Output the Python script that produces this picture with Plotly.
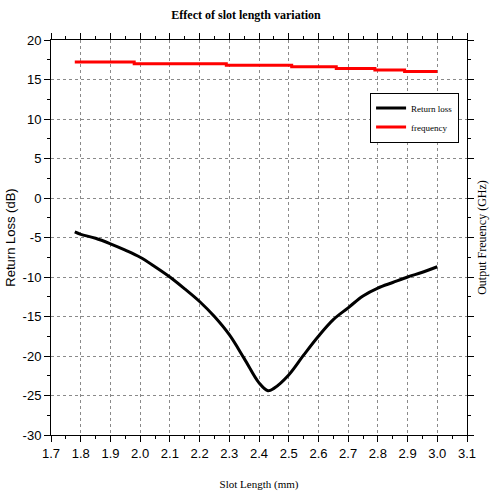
import plotly.graph_objects as go

# Return loss data
slot_len = [1.78, 1.80, 1.85, 1.90, 1.95, 2.00, 2.05, 2.10, 2.15, 2.20, 2.25, 2.30,
            2.35, 2.40, 2.43, 2.45, 2.50, 2.55, 2.60, 2.65, 2.70, 2.75, 2.80,
            2.85, 2.90, 2.95, 3.00]
return_loss = [-4.3, -4.6, -5.1, -5.8, -6.6, -7.5, -8.7, -10.0, -11.5, -13.1, -15.0, -17.3,
               -20.3, -23.4, -24.4, -24.1, -22.4, -19.9, -17.5, -15.4, -13.9, -12.4, -11.4,
               -10.7, -10.0, -9.4, -8.7]

# Output frequency (step-wise)
freq_len = [1.78, 1.98, 2.29, 2.51, 2.66, 2.79, 2.89, 3.00]
frequency = [17.2, 17.0, 16.8, 16.6, 16.4, 16.2, 16.0, 16.0]

x_ticks = [1.7, 1.8, 1.9, 2.0, 2.1, 2.2, 2.3, 2.4, 2.5, 2.6, 2.7, 2.8, 2.9, 3.0, 3.1]
y_ticks = [-30, -25, -20, -15, -10, -5, 0, 5, 10, 15, 20]

SANS = "Liberation Sans, Arial, sans-serif"
SERIF = "Liberation Serif, Times New Roman, serif"

fig = go.Figure()
fig.add_trace(go.Scatter(x=slot_len, y=return_loss, mode="lines", name="Return loss",
                         line=dict(color="black", width=3, shape="spline")))
fig.add_trace(go.Scatter(x=freq_len, y=frequency, mode="lines", name="frequency",
                         line=dict(color="#ff0000", width=3, shape="hv"), yaxis="y2"))

axis_common = dict(showline=True, linecolor="black", linewidth=1,
                   ticks="outside", ticklen=6, tickcolor="black", tickwidth=1,
                   tickfont=dict(family=SANS, size=13, color="black"),
                   zeroline=False, automargin=False)

fig.update_layout(
    width=492, height=495,
    margin=dict(l=51, r=25, t=40, b=60),
    paper_bgcolor="white", plot_bgcolor="white",
    title=dict(text="<b>Effect of slot length variation</b>", x=0.5, xanchor="center",
               y=1 - 15 / 495, yanchor="middle",
               font=dict(family=SERIF, size=12, color="black")),
    xaxis=dict(range=[1.7, 3.1], tickvals=x_ticks, ticktext=[f"{v:.1f}" for v in x_ticks],
               showgrid=True, gridcolor="#8a8a8a", griddash="dot", gridwidth=1,
               mirror="ticks",
               minor=dict(dtick=0.05, tick0=1.7, ticks="outside", ticklen=3, tickcolor="black", showgrid=False),
               title=dict(text="Slot Length (mm)", standoff=20,
                          font=dict(family=SERIF, size=11, color="black")),
               **axis_common),
    yaxis=dict(range=[-30, 20], tickvals=y_ticks, ticktext=[str(v) for v in y_ticks],
               showgrid=True, gridcolor="#8a8a8a", griddash="dot", gridwidth=1,
               minor=dict(dtick=2.5, tick0=0, ticks="outside", ticklen=3, tickcolor="black", showgrid=False),
               title=dict(text="Return Loss (dB)", standoff=4,
                          font=dict(family=SANS, size=13, color="black")),
               **axis_common),
    yaxis2=dict(range=[-30, 20], tickvals=y_ticks, overlaying="y", side="right",
                showticklabels=False, showgrid=False,
                minor=dict(dtick=2.5, tick0=0, ticks="outside", ticklen=3, tickcolor="black", showgrid=False),
                title=dict(text="Output Freuency (GHz)", standoff=4,
                           font=dict(family=SERIF, size=12, color="black")),
                **axis_common),
    legend=dict(x=0.767, y=0.867, xanchor="left", yanchor="top",
                bgcolor="white", bordercolor="black", borderwidth=1,
                font=dict(family=SERIF, size=9, color="black"),
                itemwidth=30, tracegroupgap=0),
    showlegend=True,
)

fig.write_html("out.html", config={"displayModeBar": False},
               post_script="document.body.style.margin='0';document.body.style.padding='0';")
